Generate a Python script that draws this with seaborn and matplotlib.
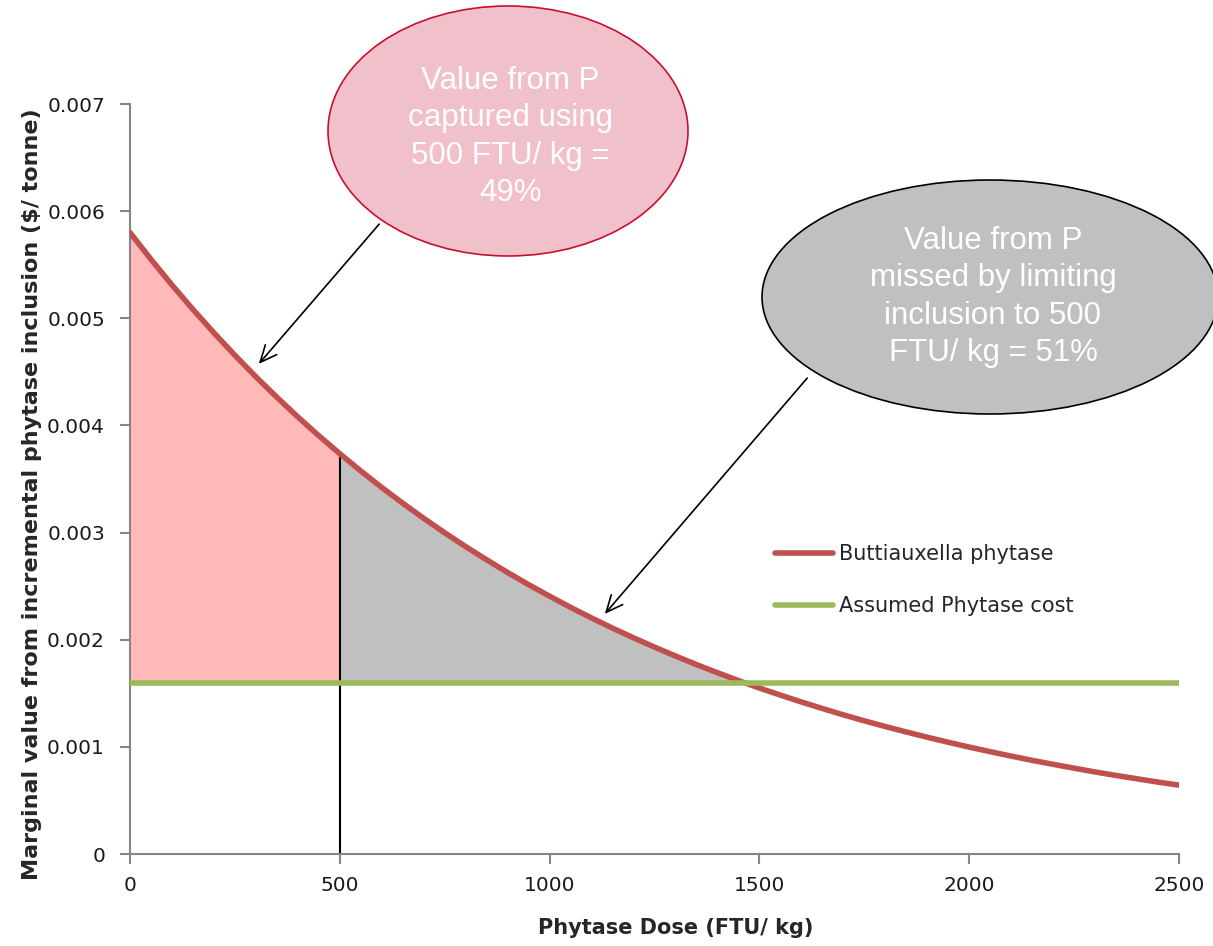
import matplotlib
matplotlib.use("Agg")
import matplotlib.pyplot as plt
import seaborn as sns
import pandas as pd
import numpy as np
from matplotlib.patches import Ellipse

# ---- data ----
dose = [0, 50, 100, 150, 200, 250, 300, 350, 400, 450, 500, 550, 600, 650, 700,
        750, 800, 850, 900, 950, 1000, 1050, 1100, 1150, 1200, 1250, 1300, 1350,
        1400, 1450, 1500, 1550, 1600, 1650, 1700, 1750, 1800, 1850, 1900, 1950,
        2000, 2050, 2100, 2150, 2200, 2250, 2300, 2350, 2400, 2450, 2500]
value = [0.005800, 0.005550, 0.005311, 0.005083, 0.004864, 0.004655, 0.004454,
         0.004263, 0.004079, 0.003904, 0.003736, 0.003575, 0.003421, 0.003274,
         0.003133, 0.002998, 0.002869, 0.002746, 0.002627, 0.002514, 0.002406,
         0.002302, 0.002203, 0.002108, 0.002018, 0.001931, 0.001848, 0.001768,
         0.001692, 0.001619, 0.001549, 0.001483, 0.001419, 0.001358, 0.001299,
         0.001243, 0.001190, 0.001139, 0.001090, 0.001043, 0.000998, 0.000955,
         0.000914, 0.000874, 0.000837, 0.000801, 0.000766, 0.000733, 0.000702,
         0.000671, 0.000643]
cost_level = 0.0016
cost = [cost_level] * len(dose)
dose_limit = 500

series_names = ["Buttiauxella phytase", "Assumed Phytase cost"]
x_ticks = [0, 500, 1000, 1500, 2000, 2500]
x_tick_labels = ["0", "500", "1000", "1500", "2000", "2500"]
y_ticks = [0, 0.001, 0.002, 0.003, 0.004, 0.005, 0.006, 0.007]
y_tick_labels = ["0", "0.001", "0.002", "0.003", "0.004", "0.005", "0.006", "0.007"]
note_captured = "Value from P\ncaptured using\n500 FTU/ kg =\n49%"
note_missed = "Value from P\nmissed by limiting\ninclusion to 500\nFTU/ kg = 51%"

df = pd.DataFrame({
    "dose": dose * 2,
    "value": value + cost,
    "series": [series_names[0]] * len(dose) + [series_names[1]] * len(dose),
})

sns.set_theme(style="white")
plt.rcParams["font.family"] = ["DejaVu Sans"]

W, H = 1213, 946
fig = plt.figure(figsize=(W / 100, H / 100), dpi=100)
ax = fig.add_axes([130 / W, (H - 854) / H, (1179 - 130) / W, (854 - 104) / H])

d = np.array(dose)
v = np.array(value)
c = np.array(cost)

# shaded regions
ax.fill_between(d, c, v, where=(d <= dose_limit), color="#FFB9B9", linewidth=0, zorder=1)
ax.fill_between(d, c, v, where=(d >= dose_limit) & (v >= c), interpolate=True,
                color="#C0C0C0", linewidth=0, zorder=1)
ax.vlines(dose_limit, 0, value[dose.index(dose_limit)], color="black", linewidth=1.5, zorder=2)

sns.lineplot(data=df, x="dose", y="value", hue="series",
             palette={series_names[0]: "#C0504D", series_names[1]: "#9BBB59"},
             linewidth=4, ax=ax, zorder=3, legend=True)

ax.set_xlim(0, 2500)
ax.set_ylim(0, 0.007)
ax.set_xticks(x_ticks)
ax.set_xticklabels(x_tick_labels)
ax.set_yticks(y_ticks)
ax.set_yticklabels(y_tick_labels)

for s in ["top", "right"]:
    ax.spines[s].set_visible(False)
for s in ["left", "bottom"]:
    ax.spines[s].set_color("#868686")
    ax.spines[s].set_linewidth(1.5)
ax.tick_params(axis="both", which="major", direction="out", length=7, width=1.5,
               color="#868686", labelsize=14.5, labelcolor="#1a1a1a",
               bottom=True, left=True)
ax.tick_params(axis="y", pad=11)
ax.tick_params(axis="x", pad=9)

ax.set_xlabel("Phytase Dose (FTU/ kg)", fontsize=15, fontweight="bold")
ax.set_ylabel("Marginal value from incremental phytase inclusion ($/ tonne)",
              fontsize=16, fontweight="bold")
ax.xaxis.set_label_coords(0.52, -0.085)
ax.yaxis.set_label_coords(-0.084, 0.48)

leg = ax.legend(loc="upper left", bbox_to_anchor=(775 / W, (H - 544) / H),
                bbox_transform=fig.transFigure, frameon=False, borderpad=0,
                borderaxespad=0, handlelength=2.8, handletextpad=0.25,
                labelspacing=1.55, fontsize=15)
for line in leg.get_lines():
    line.set_linewidth(4)

# callout ellipses (figure pixel space: inches via dpi_scale_trans)
e1 = Ellipse((508 / 100, (H - 131) / 100), 3.60, 2.50, transform=fig.dpi_scale_trans,
             facecolor="#F0C0CB", edgecolor="#C8102E", linewidth=1.2, zorder=10)
fig.patches.append(e1)
e2 = Ellipse((990 / 100, (H - 297) / 100), 4.56, 2.34, transform=fig.dpi_scale_trans,
             facecolor="#C0C0C0", edgecolor="black", linewidth=1.2, zorder=10)
fig.patches.append(e2)

fig.text(510 / W, (H - 137) / H, note_captured, ha="center", va="center",
         color="white", fontsize=22.5, family=["Liberation Sans", "DejaVu Sans"],
         linespacing=1.33, zorder=11)
fig.text(993 / W, (H - 297) / H, note_missed, ha="center", va="center",
         color="white", fontsize=22.5, family=["Liberation Sans", "DejaVu Sans"],
         linespacing=1.33, zorder=11)

# arrows from callouts to the curve
arrow_kw = dict(arrowstyle="->,head_length=1.0,head_width=0.45", color="black", lw=1.2)
ax.annotate("", xy=(257, H - 366), xycoords="figure pixels",
            xytext=(381, H - 222), textcoords="figure pixels", arrowprops=arrow_kw)
ax.annotate("", xy=(603, H - 616), xycoords="figure pixels",
            xytext=(809, H - 376), textcoords="figure pixels", arrowprops=arrow_kw)

fig.savefig("out.png", dpi=100)
